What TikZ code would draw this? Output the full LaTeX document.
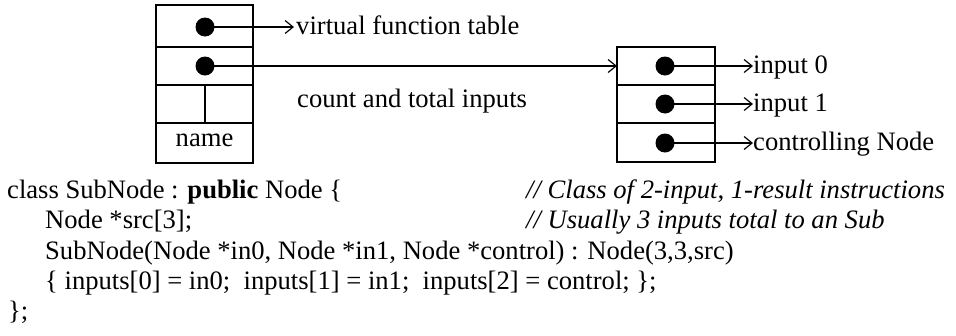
\documentclass[tikz,border=0pt]{standalone}
\usepackage{fontspec}
\setmainfont{Liberation Serif}
\usetikzlibrary{arrows.meta}
\begin{document}
\begin{tikzpicture}[x=1pt,y=-1pt,
  font=\fontsize{26.6}{30}\selectfont,
  cell/.style={draw, line width=1.2pt, minimum width=97pt, inner sep=0pt, outer sep=0pt, anchor=north west},
  dot/.style={circle, fill=black, minimum size=19pt, inner sep=0pt},
  arr/.style={-{Straight Barb[length=8pt,width=13pt,line width=1.2pt]}, line width=1.2pt},
  lbl/.style={anchor=base west, inner sep=0pt}]
\fill[white] (0,0) rectangle (956,335);
% left record
\node[cell, minimum height=42pt] (L1) at (156,5) {};
\node[cell, minimum height=38pt] (L2) at (156,47) {};
\node[cell, minimum width=49pt, minimum height=38pt] (L3a) at (156,85) {};
\node[cell, minimum width=48pt, minimum height=38pt] (L3b) at (205,85) {};
\node[cell, minimum height=40pt, text depth=5pt] (L4) at (156,123) {name};
% right record
\node[cell, minimum width=98pt, minimum height=38pt] (R1) at (617,47) {};
\node[cell, minimum width=98pt, minimum height=38pt] (R2) at (617,85) {};
\node[cell, minimum width=98pt, minimum height=39pt] (R3) at (617,123) {};
% dots
\node[dot] (d1) at (205,27) {};
\node[dot] (d2) at (205,66) {};
\node[dot] (e1) at (665,66) {};
\node[dot] (e2) at (665,104) {};
\node[dot] (e3) at (665,143) {};
% labels
\node[lbl] (vft) at (296,34) {virtual function table};
\node[lbl] (cnt) at (297,107) {count and total inputs};
\node[lbl] (in0) at (753,73) {input 0};
\node[lbl] (in1) at (753,111) {input 1};
\node[lbl] (ctl) at (753,150) {controlling Node};
% arrows
\draw[arr] (d1.center) -- ([xshift=-2pt]d1 -| vft.west);
\draw[arr] (d2.center) -- (d2 -| R1.west);
\draw[arr] (e1.center) -- (e1 -| in0.west);
\draw[arr] (e2.center) -- (e2 -| in1.west);
\draw[arr] (e3.center) -- (e3 -| ctl.west);
% code
\node[lbl] (c1) at (7,198) {class SubNode : \textbf{public} Node \{};
\node[lbl] (c2) at (45,228) {Node *src[3];};
\node[lbl] (c3) at (45,259) {SubNode(Node *in0, Node *in1, Node *control) : Node(3,3,src)};
\node[lbl] (c4) at (45,289) {\{ inputs[0] = in0;\ \ inputs[1] = in1;\ \ inputs[2] = control; \};};
\node[lbl] (c5) at (8,319) {\};};
\node[lbl] (k1) at (526,198) {\itshape // Class of 2-input, 1-result instructions};
\node[lbl] (k2) at (526,228) {\itshape // Usually 3 inputs total to an Sub};
\end{tikzpicture}
\end{document}
